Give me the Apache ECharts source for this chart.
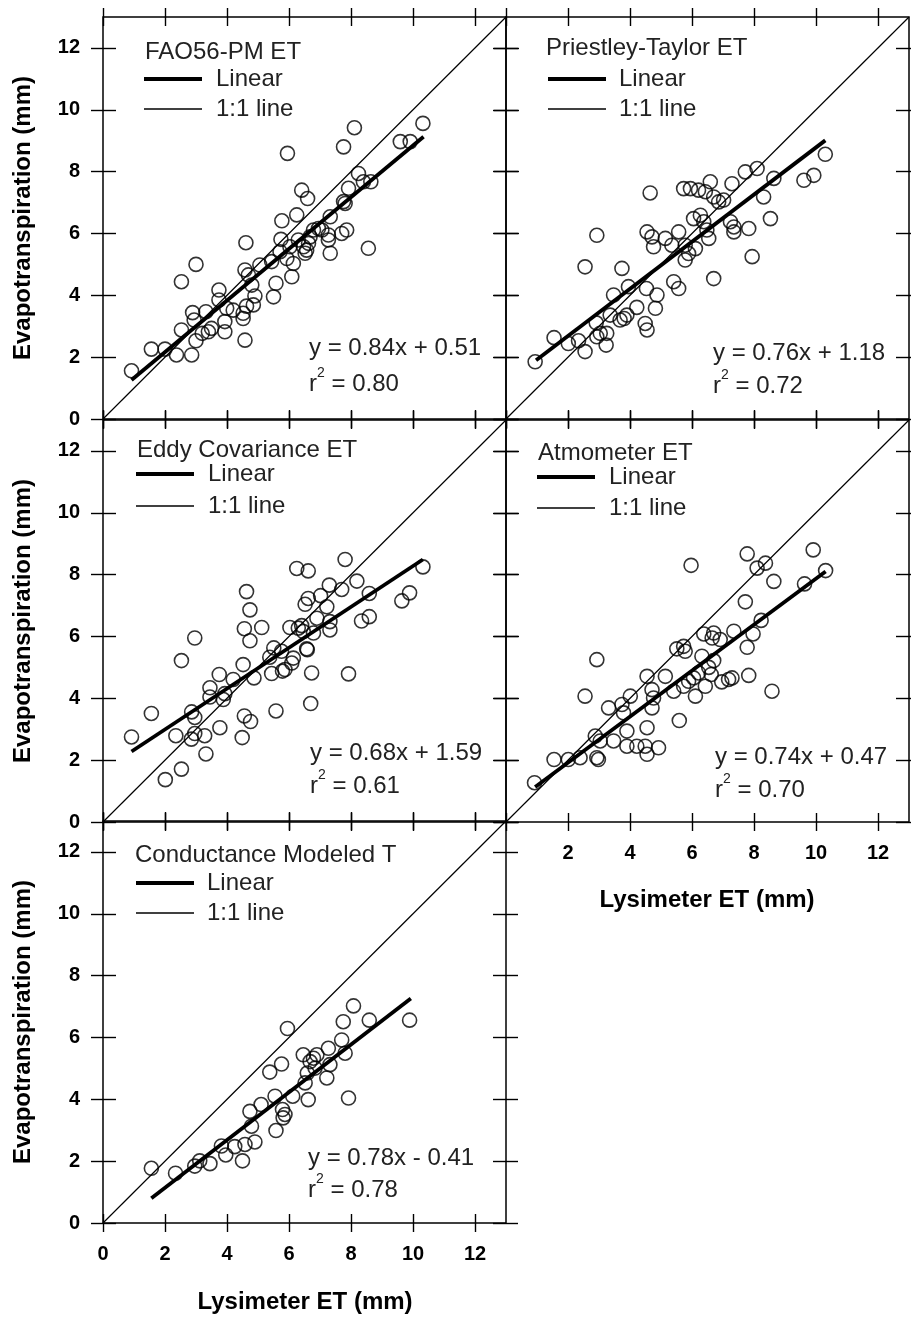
<!DOCTYPE html>
<html>
<head>
<meta charset="utf-8">
<script src="https://cdn.jsdelivr.net/npm/echarts@6/dist/echarts.min.js"></script>
<style>
  html, body { margin: 0; padding: 0; background: #fff; }
  #chart { width: 911px; height: 1317px; }
</style>
</head>
<body>
<div id="chart"></div>
<script>
// ---- data ----
const panelNames = ['FAO56-PM ET', 'Priestley-Taylor ET', 'Eddy Covariance ET', 'Atmometer ET', 'Conductance Modeled T'];
const eqTexts = ['y = 0.84x + 0.51', 'y = 0.76x + 1.18', 'y = 0.68x + 1.59', 'y = 0.74x + 0.47', 'y = 0.78x - 0.41'];
const r2Texts = ['0.80', '0.72', '0.61', '0.70', '0.78'];
const tickValues = [0, 2, 4, 6, 8, 10, 12];
const oneToOneX = [0, 13];
const oneToOneY = [0, 13];

const faoX = [0.92,1.56,2.0,2.37,2.86,2.53,2.53,3.0,2.89,2.94,3.0,3.32,3.2,3.4,3.5,3.74,3.74,3.93,3.93,3.99,4.2,4.52,4.52,4.58,4.58,4.61,4.63,4.69,4.8,4.85,4.9,5.06,5.44,5.5,5.58,5.71,5.74,5.77,5.93,5.95,6.09,6.14,6.03,6.25,6.3,6.41,6.6,6.47,6.52,6.57,6.63,6.68,6.79,6.95,7.06,7.27,7.27,7.33,7.33,7.7,7.86,7.76,7.81,7.92,7.76,8.11,8.24,8.4,8.56,8.64,9.59,9.91,10.32];
const faoY = [1.56,2.26,2.26,2.07,2.07,2.88,4.44,5.0,3.44,3.2,2.53,3.47,2.77,2.82,2.93,4.17,3.85,3.15,2.82,3.58,3.52,3.42,3.25,2.55,4.82,5.70,3.65,4.66,4.33,3.69,3.98,4.98,5.09,3.95,4.39,5.41,5.81,6.41,5.19,8.59,4.6,5.03,5.57,6.6,5.79,7.4,7.13,5.57,5.36,5.46,5.68,5.89,6.11,6.16,6.11,5.95,5.79,5.36,6.54,6.0,6.11,7.03,6.97,7.46,8.8,9.42,7.94,7.67,5.52,7.67,8.97,8.97,9.56];
const faoFitX = [0.92, 10.34];
const faoFitY = [1.26, 9.13];

const ptX = [0.94,1.55,2.01,2.34,2.55,2.55,2.93,2.91,2.93,3.04,3.23,3.25,3.36,3.47,3.68,3.74,3.81,3.9,3.95,4.22,4.49,4.55,4.53,4.82,4.87,4.55,4.65,4.71,4.76,5.14,5.41,5.57,5.57,5.35,5.73,5.95,6.21,6.43,6.59,5.78,5.78,5.89,6.11,6.05,6.27,6.38,6.48,6.54,6.7,6.7,6.86,7.02,7.24,7.35,7.35,7.29,7.72,7.83,7.94,8.1,8.31,8.53,8.64,9.61,9.93,10.3];
const ptY = [1.85,2.63,2.44,2.53,2.18,4.92,5.94,3.11,2.66,2.77,2.39,2.77,3.36,4.01,3.2,4.87,3.25,3.36,4.28,3.61,3.09,2.88,4.22,3.58,4.01,6.05,7.31,5.89,5.57,5.84,4.44,4.22,6.05,5.62,7.45,7.45,7.4,7.35,7.67,5.62,5.14,5.35,5.51,6.48,6.59,6.38,6.11,5.84,4.54,7.18,7.02,7.08,6.38,6.21,6.05,7.61,7.99,6.16,5.25,8.1,7.18,6.48,7.78,7.72,7.88,8.56];
const ptFitX = [0.97, 10.3];
const ptFitY = [1.9, 9.01];

const ecX = [0.92,1.56,2.01,2.35,2.53,2.53,2.86,2.96,2.96,2.85,2.96,3.28,3.32,3.45,3.45,3.75,3.77,3.88,3.93,4.2,4.49,4.56,4.76,4.52,4.63,4.74,4.56,4.74,5.12,4.87,5.38,5.51,5.44,5.58,5.76,5.79,5.87,6.09,6.14,6.03,6.25,6.62,6.3,6.41,6.46,6.57,6.59,6.52,6.62,6.7,6.73,6.79,6.9,7.02,7.22,7.3,7.32,7.32,7.7,7.81,7.92,8.19,8.34,8.59,8.59,9.64,9.89,10.32];
const ecY = [2.75,3.51,1.37,2.79,5.22,1.71,3.56,5.95,3.38,2.68,2.86,2.79,2.2,4.34,4.04,4.77,3.05,3.96,4.15,4.61,2.73,3.43,3.25,5.09,7.45,6.86,6.25,5.86,6.29,4.66,5.33,5.63,4.8,3.59,5.52,4.88,4.93,5.14,5.3,6.29,8.2,8.12,6.27,6.35,6.16,5.6,5.57,7.04,7.23,3.83,4.82,6.11,6.59,7.32,6.96,7.66,6.48,6.21,7.52,8.49,4.79,7.79,6.5,6.64,7.39,7.15,7.41,8.25];
const ecFitX = [0.92, 10.32];
const ecFitY = [2.28, 8.49];

const atmX = [0.92,1.55,2.01,2.39,2.55,2.88,2.93,2.93,2.98,3.04,3.31,3.47,3.74,3.79,3.9,3.9,4.01,4.22,4.49,4.55,4.55,4.55,4.71,4.76,4.71,4.92,5.14,5.41,5.59,5.51,5.73,5.78,5.73,5.89,5.97,6.05,6.11,6.21,6.32,6.38,6.43,6.54,6.7,6.65,6.7,6.62,6.91,6.96,7.18,7.29,7.35,7.72,7.78,7.83,7.78,7.97,8.1,8.23,8.37,8.58,8.64,9.63,9.91,10.31];
const atmY = [1.27,2.02,2.02,2.08,4.07,2.78,2.08,5.25,2.02,2.62,3.69,2.62,3.8,3.53,2.45,2.94,4.07,2.45,2.45,3.05,2.19,4.71,4.28,4.01,3.69,2.4,4.71,4.23,3.28,5.6,5.68,5.52,4.39,4.55,8.3,4.66,4.07,4.82,5.36,6.08,4.39,5.0,6.11,5.95,5.22,4.77,5.9,4.53,4.61,4.66,6.17,7.12,5.65,4.74,8.67,6.08,8.21,6.52,8.37,4.23,7.78,7.7,8.8,8.13];
const atmFitX = [0.94, 10.31];
const atmFitY = [1.13, 8.1];

const condX = [1.56,2.34,2.96,3.12,3.45,3.82,3.96,4.25,4.5,4.58,4.79,4.9,4.74,5.1,5.38,5.55,5.58,5.76,5.79,5.81,5.87,5.95,6.12,6.46,6.52,6.59,6.62,6.68,6.79,6.84,6.9,7.22,7.27,7.32,7.7,7.75,7.81,7.92,8.08,8.59,9.89];
const condY = [1.77,1.61,1.84,2.01,1.92,2.49,2.2,2.47,2.01,2.54,3.13,2.62,3.61,3.83,4.88,4.1,2.99,5.14,3.67,3.4,3.51,6.29,4.1,5.44,4.53,4.85,3.99,5.22,5.33,5.01,5.44,4.69,5.65,5.12,5.92,6.51,5.49,4.04,7.02,6.56,6.56];
const condFitX = [1.56, 9.93];
const condFitY = [0.8, 7.26];

const pointsX = [faoX, ptX, ecX, atmX, condX];
const pointsY = [faoY, ptY, ecY, atmY, condY];
const fitsX = [faoFitX, ptFitX, ecFitX, atmFitX, condFitX];
const fitsY = [faoFitY, ptFitY, ecFitY, atmFitY, condFitY];

// ---- layout ----
const FONT = 'Arial, "Liberation Sans", sans-serif';
const W = 403, H = 402;
const panels = [
  { left: 103, top: 17,  xLab: null, yLab: true,  key: [42, 35, 62, 92, 41, 113], eq: [206, 331, 364] },
  { left: 506, top: 17,  xLab: null, yLab: false, key: [40, 31, 62, 92, 42, 113], eq: [207, 336, 366] },
  { left: 103, top: 420, xLab: null, yLab: true,  key: [34, 30, 54, 86, 33, 105], eq: [207, 333, 363] },
  { left: 506, top: 420, xLab: [2, 4, 6, 8, 10, 12], yLab: false, key: [32, 33, 57, 88, 31, 103], eq: [209, 337, 367] },
  { left: 103, top: 821, xLab: tickValues, yLab: true, key: [32, 34, 62, 92, 33, 104], eq: [205, 337, 366] }
];

const zip = (xs, ys) => xs.map((x, i) => [x, ys[i]]);
const tickStyle = { color: '#000', width: 1.4 };
const labelStyle = { color: '#000', fontFamily: FONT, fontWeight: 'bold', fontSize: 20 };

const grid = [], xAxis = [], yAxis = [], series = [], graphic = [];

panels.forEach((p, i) => {
  grid.push({ left: p.left, top: p.top, width: W, height: H, show: true,
    borderColor: '#000', borderWidth: 1.5, backgroundColor: 'transparent', outerBoundsMode: 'none' });

  // ticks cross the frame: axes shifted outward, ticks pointing in
  ['bottom', 'top'].forEach(pos => {
    const lab = pos === 'bottom' && p.xLab;
    xAxis.push({
      gridIndex: i, type: 'value', min: 0, max: 13, position: pos, offset: 9,
      axisLine: { show: false, onZero: false },
      axisTick: { show: true, inside: true, length: 18, customValues: tickValues, lineStyle: tickStyle },
      axisLabel: lab ? Object.assign({ show: true, margin: 12, customValues: p.xLab }, labelStyle) : { show: false },
      splitLine: { show: false }
    });
  });
  ['left', 'right'].forEach(pos => {
    const lab = pos === 'left' && p.yLab;
    yAxis.push({
      gridIndex: i, type: 'value', min: 0, max: 13, position: pos, offset: 12,
      axisLine: { show: false, onZero: false },
      axisTick: { show: true, inside: true, length: 25, customValues: tickValues, lineStyle: tickStyle },
      axisLabel: lab ? Object.assign({ show: true, margin: 11, customValues: tickValues }, labelStyle) : { show: false },
      splitLine: { show: false }
    });
  });

  const xi = 2 * i, yi = 2 * i;
  series.push({
    type: 'line', xAxisIndex: xi, yAxisIndex: yi, data: zip(oneToOneX, oneToOneY),
    showSymbol: false, symbol: 'none', lineStyle: { color: '#000', width: 1.2 }, silent: true
  });
  series.push({
    type: 'scatter', xAxisIndex: xi, yAxisIndex: yi, data: zip(pointsX[i], pointsY[i]),
    symbol: 'circle', symbolSize: 14,
    itemStyle: { color: 'rgba(0,0,0,0)', borderColor: '#000', borderWidth: 1.6 }, silent: true
  });
  series.push({
    type: 'line', xAxisIndex: xi, yAxisIndex: yi, data: zip(fitsX[i], fitsY[i]),
    showSymbol: false, symbol: 'none', lineStyle: { color: '#000', width: 3.8 }, silent: true, z: 3
  });

  // key box in the upper left
  const k = p.key, txt = { fill: '#222', fontFamily: FONT, fontSize: 24, verticalAlign: 'middle', align: 'left' };
  graphic.push({ type: 'text', x: p.left + k[0], y: p.top + k[1], style: Object.assign({ text: panelNames[i] }, txt) });
  graphic.push({ type: 'line', shape: { x1: p.left + k[4], y1: p.top + k[2], x2: p.left + k[4] + 58, y2: p.top + k[2] },
    style: { stroke: '#000', lineWidth: 4 } });
  graphic.push({ type: 'text', x: p.left + k[5], y: p.top + k[2], style: Object.assign({ text: 'Linear' }, txt) });
  graphic.push({ type: 'line', shape: { x1: p.left + k[4], y1: p.top + k[3], x2: p.left + k[4] + 58, y2: p.top + k[3] },
    style: { stroke: '#000', lineWidth: 1.4 } });
  graphic.push({ type: 'text', x: p.left + k[5], y: p.top + k[3], style: Object.assign({ text: '1:1 line' }, txt) });

  // regression text
  const e = p.eq;
  graphic.push({ type: 'text', x: p.left + e[0], y: p.top + e[1], style: Object.assign({ text: eqTexts[i] }, txt) });
  graphic.push({ type: 'text', x: p.left + e[0], y: p.top + e[2], style: {
    text: '{t|r}{s|2}{t| = ' + r2Texts[i] + '}', align: 'left', verticalAlign: 'middle',
    rich: {
      t: { fill: '#222', fontFamily: FONT, fontSize: 24, lineHeight: 30, verticalAlign: 'bottom' },
      s: { fill: '#222', fontFamily: FONT, fontSize: 14, lineHeight: 14, verticalAlign: 'top' }
    }
  } });
});

// axis titles
const titleStyle = { fill: '#000', fontFamily: FONT, fontWeight: 'bold', fontSize: 24, align: 'center', verticalAlign: 'middle' };
[0, 2, 4].forEach(i => {
  const p = panels[i];
  graphic.push({ type: 'text', x: 23, y: p.top + H / 2, rotation: Math.PI / 2,
    style: Object.assign({ text: 'Evapotranspiration (mm)' }, titleStyle) });
});
graphic.push({ type: 'text', x: 707, y: 900, style: Object.assign({ text: 'Lysimeter ET (mm)' }, titleStyle) });
graphic.push({ type: 'text', x: 305, y: 1302, style: Object.assign({ text: 'Lysimeter ET (mm)' }, titleStyle) });

const chart = echarts.init(document.getElementById('chart'), null, { renderer: 'canvas' });
chart.setOption({
  animation: false,
  backgroundColor: '#fff',
  grid, xAxis, yAxis, series, graphic
});
</script>
</body>
</html>
